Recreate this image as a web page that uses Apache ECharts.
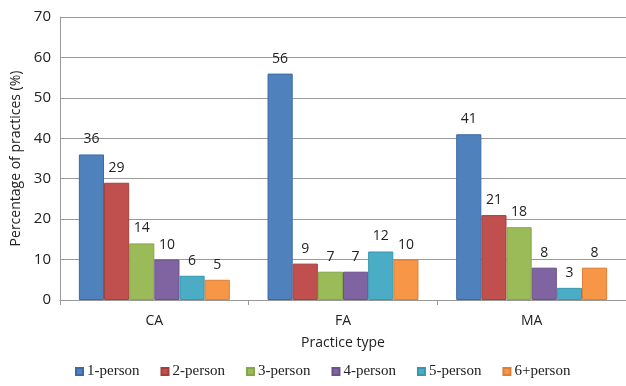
<!DOCTYPE html>
<html>
<head>
<meta charset="utf-8">
<script src="https://cdn.jsdelivr.net/npm/echarts@6/dist/echarts.min.js"></script>
<style>
  html, body { margin: 0; padding: 0; background: #fff; }
  #chart { width: 626px; height: 386px; }
</style>
</head>
<body>
<div id="chart"></div>
<script>
// Practice types on the x axis
const categories = ['CA', 'FA', 'MA'];

// Percentage of practices by practice size
const onePerson   = [36, 56, 41];
const twoPerson   = [29, 9, 21];
const threePerson = [14, 7, 18];
const fourPerson  = [10, 7, 8];
const fivePerson  = [6, 12, 3];
const sixPlus     = [5, 10, 8];

const seriesNames = ['1-person', '2-person', '3-person', '4-person', '5-person', '6+person'];
const seriesData = [onePerson, twoPerson, threePerson, fourPerson, fivePerson, sixPlus];
const fills   = ['#4F81BD', '#C0504D', '#9BBB59', '#8064A2', '#4BACC6', '#F79646'];
const borders = ['#3A6AA6', '#A5403D', '#86A64A', '#6B528C', '#3797B0', '#DE7F33'];

const yTicks = [0, 10, 20, 30, 40, 50, 60, 70];

const chart = echarts.init(document.getElementById('chart'), null, { renderer: 'canvas' });

chart.setOption({
  animation: false,
  textStyle: { fontFamily: 'Open Sans, Noto Sans, sans-serif' },
  grid: { left: 60, right: -3, top: 17, bottom: 86 },
  legend: {
    bottom: 2,
    left: 70,
    itemWidth: 7,
    itemHeight: 7,
    itemGap: 21,
    icon: 'rect',
    textStyle: { fontFamily: 'Liberation Serif, serif', fontSize: 15, color: '#222', padding: [0, 0, 0, -1] },
    data: seriesNames
  },
  xAxis: {
    type: 'category',
    data: categories,
    name: 'Practice type',
    nameLocation: 'middle',
    nameGap: 36,
    nameTextStyle: { fontSize: 14, color: '#222' },
    axisLine: { lineStyle: { color: '#999', width: 1 } },
    axisTick: { show: true, length: 5, lineStyle: { color: '#999' } },
    axisLabel: { fontSize: 14, color: '#222', margin: 14 }
  },
  yAxis: {
    type: 'value',
    min: yTicks[0],
    max: yTicks[yTicks.length - 1],
    interval: 10,
    name: 'Percentage of practices (%)',
    nameLocation: 'middle',
    nameGap: 37,
    nameTextStyle: { fontSize: 14, color: '#222' },
    axisLine: { show: true, lineStyle: { color: '#999' } },
    axisTick: { show: false },
    axisLabel: { fontSize: 15, color: '#222', margin: 9 },
    splitLine: { lineStyle: { color: '#9a9a9a', width: 1 } }
  },
  series: seriesNames.map((name, i) => ({
    name: name,
    type: 'bar',
    data: seriesData[i],
    barGap: '0%',
    barCategoryGap: '20%',
    itemStyle: { color: fills[i], borderColor: borders[i], borderWidth: 1 },
    label: {
      show: true,
      position: 'top',
      distance: 8,
      fontSize: 14,
      color: '#222'
    }
  }))
});
</script>
</body>
</html>
